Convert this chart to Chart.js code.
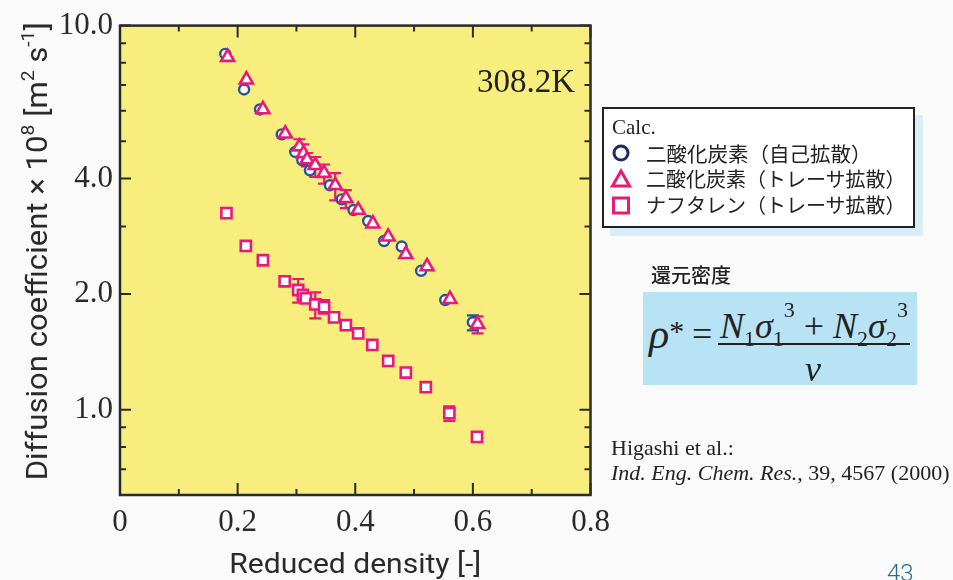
<!DOCTYPE html>
<html>
<head>
<meta charset="utf-8">
<script src="https://cdn.jsdelivr.net/npm/chart.js@4/dist/chart.umd.min.js"></script>
<style>
  html, body { margin: 0; padding: 0; background: #fafafa; }
  #wrap { position: relative; width: 953px; height: 580px; overflow: hidden; }
  #chart { position: absolute; left: 0; top: 0; }
  .abs { position: absolute; white-space: nowrap; }
  .serif { font-family: 'Liberation Serif', 'Times New Roman', serif; color: #222; }
  .cjk { font-family: 'Noto Sans CJK JP', sans-serif; color: #222; }
  #legend { left: 602px; top: 107px; width: 309px; height: 117px; border: 2px solid #222;
            background: #fff; box-shadow: 8px 8px 0 #d8edf5; }
  #formulaBox { left: 643px; top: 292px; width: 274px; height: 93px; background: #b7e3f4; }
  .fx { font-family: 'Liberation Serif', 'Times New Roman', serif; font-style: italic; color: #222; }
  .sub { font-style: normal; font-size: 22px; position: relative; top: 8px; }
  .sup { font-style: normal; font-size: 22px; position: relative; top: -21px; }
</style>
</head>
<body>
<div id="wrap">
  <canvas id="chart" width="953" height="580"></canvas>

  <!-- temperature tag -->
  <div class="abs serif" style="left:477px; top:62px; font-size:33px; line-height:38px;">308.2K</div>

  <!-- legend -->
  <div id="legend" class="abs"></div>
  <div class="abs serif" style="left:612px; top:115px; font-size:21px; line-height:24px;">Calc.</div>
  <svg class="abs" style="left:610px; top:142px;" width="22" height="76">
    <circle cx="11" cy="11" r="7" fill="#fff" stroke="#1b2a6b" stroke-width="3"/>
    <polygon points="11,29 19.5,44 2.5,44" fill="#fff" stroke="#e8197a" stroke-width="3" stroke-linejoin="miter"/>
    <rect x="3.5" y="56" width="15" height="15" fill="#fff" stroke="#e8197a" stroke-width="3"/>
  </svg>
  <div class="abs cjk" style="left:646px; top:141px; font-size:20.5px; line-height:24px;">二酸化炭素（自己拡散）</div>
  <div class="abs cjk" style="left:646px; top:167px; font-size:20px; line-height:24px;">二酸化炭素（トレーサ拡散）</div>
  <div class="abs cjk" style="left:646px; top:193px; font-size:20px; line-height:24px;">ナフタレン（トレーサ拡散）</div>

  <!-- reduced density definition -->
  <div class="abs cjk" style="left:651px; top:263px; font-size:20px; line-height:24px; font-weight:500;">還元密度</div>
  <div id="formulaBox" class="abs"></div>
  <div class="abs fx" style="left:649px; top:316px; font-size:42px; line-height:36px;">ρ<span style="font-style:normal; font-size:30px; position:relative; top:-7px;">*</span></div>
  <div class="abs fx" style="left:692px; top:316px; font-size:36px; line-height:36px; font-style:normal;">=</div>
  <div class="abs fx" style="left:720px; top:308px; font-size:36px; line-height:36px;">N<span class="sub">1</span>σ<span class="sub">1</span><span class="sup">3</span> <span style="font-style:normal">+</span> N<span class="sub">2</span>σ<span class="sub">2</span><span class="sup">3</span></div>
  <div class="abs" style="left:718px; top:343px; width:192px; height:2px; background:#222;"></div>
  <div class="abs fx" style="left:805px; top:351px; font-size:36px; line-height:36px;">v</div>

  <!-- reference -->
  <div class="abs serif" style="left:611px; top:435px; font-size:22px; line-height:26px;">Higashi et al.:</div>
  <div class="abs serif" style="left:611px; top:460px; font-size:22px; line-height:26px;"><i>Ind. Eng. Chem. Res.</i>, 39, 4567 (2000)</div>

  <!-- page number -->
  <div class="abs" style="left:887px; top:559px; font-family:Roboto, sans-serif; font-weight:300; font-size:24px; line-height:28px; color:#2b6e8a;">43</div>
</div>

<script>
// Axis ticks
const xTickValues = [0, 0.2, 0.4, 0.6, 0.8];
const xMinorValues = [0.1, 0.3, 0.5, 0.7];
const yTickValues = [1, 2, 4, 10];
const yMinorValues = [0.7, 0.8, 0.9, 3, 5, 6, 7, 8, 9];

// CO2 self-diffusion (calc.)
const co2SelfX = [0.179, 0.211, 0.238, 0.275, 0.298, 0.310, 0.323, 0.357, 0.377, 0.397, 0.422, 0.449, 0.479, 0.512, 0.553, 0.600];
const co2SelfY = [8.44, 6.82, 6.05, 5.21, 4.69, 4.46, 4.20, 3.84, 3.53, 3.31, 3.10, 2.75, 2.66, 2.30, 1.93, 1.69];
const co2SelfErrLo = [null, null, null, null, null, null, null, null, null, null, null, null, null, null, null, 1.61];
const co2SelfErrHi = [null, null, null, null, null, null, null, null, null, null, null, null, null, null, null, 1.76];

// CO2 tracer diffusion (calc.)
const co2TracerX = [0.183, 0.215, 0.243, 0.281, 0.305, 0.312, 0.318, 0.332, 0.347, 0.366, 0.384, 0.405, 0.430, 0.456, 0.486, 0.522, 0.561, 0.608];
const co2TracerY = [8.28, 7.23, 6.05, 5.23, 4.84, 4.65, 4.48, 4.33, 4.13, 3.84, 3.55, 3.31, 3.05, 2.82, 2.54, 2.36, 1.94, 1.67];
const co2TracerErrLo = [null, null, null, null, 4.57, 4.42, 4.30, 4.04, 3.88, 3.51, 3.35, null, null, null, null, null, null, 1.58];
const co2TracerErrHi = [null, null, null, null, 5.06, 4.91, 4.66, 4.55, 4.35, 4.13, 3.73, null, null, null, null, null, null, 1.75];

// Naphthalene tracer diffusion (calc.)
const naphX = [0.181, 0.214, 0.243, 0.280, 0.303, 0.311, 0.316, 0.332, 0.347, 0.364, 0.384, 0.405, 0.429, 0.456, 0.486, 0.520, 0.560, 0.607];
const naphY = [3.25, 2.67, 2.45, 2.16, 2.05, 1.99, 1.95, 1.88, 1.85, 1.74, 1.66, 1.58, 1.475, 1.34, 1.25, 1.145, 0.98, 0.85];
const naphErrLo = [null, null, null, null, 1.90, null, null, 1.73, 1.78, 1.70, null, null, null, null, null, null, 0.936, null];
const naphErrHi = [null, null, null, null, 2.19, null, null, 2.02, 1.93, 1.78, null, null, null, null, null, null, 1.02, null];

const NAVY = '#2653a0';
const PINK = '#e8197a';
const PLOT_BG = '#f8ee7e';
const INK = '#2a2a2a';

const toPoints = (xs, ys) => xs.map((x, i) => ({ x: x, y: ys[i] }));

// Plot-area fill, error bars, inward tick frame and axis titles
const decorations = {
  id: 'decorations',
  beforeDraw(chart) {
    const a = chart.chartArea, ctx = chart.ctx;
    ctx.save();
    ctx.fillStyle = PLOT_BG;
    ctx.fillRect(a.left, a.top, a.right - a.left, a.bottom - a.top);
    ctx.restore();
  },
  beforeDatasetsDraw(chart) {
    const ctx = chart.ctx, xs = chart.scales.x, ys = chart.scales.y;
    ctx.save();
    ctx.lineWidth = 2.2;
    chart.data.datasets.forEach(ds => {
      if (!ds.errLo) return;
      ctx.strokeStyle = ds.borderColor;
      ds.data.forEach((p, i) => {
        if (ds.errLo[i] == null) return;
        const px = xs.getPixelForValue(p.x);
        const lo = ys.getPixelForValue(ds.errLo[i]);
        const hi = ys.getPixelForValue(ds.errHi[i]);
        ctx.beginPath();
        ctx.moveTo(px, lo); ctx.lineTo(px, hi);
        ctx.moveTo(px - 6, lo); ctx.lineTo(px + 6, lo);
        ctx.moveTo(px - 6, hi); ctx.lineTo(px + 6, hi);
        ctx.stroke();
      });
    });
    ctx.restore();
  },
  afterDraw(chart) {
    const ctx = chart.ctx, a = chart.chartArea, xs = chart.scales.x, ys = chart.scales.y;
    ctx.save();
    ctx.strokeStyle = INK;
    ctx.lineWidth = 2;
    ctx.beginPath();
    const tick = (x1, y1, x2, y2) => { ctx.moveTo(x1, y1); ctx.lineTo(x2, y2); };
    xTickValues.forEach(v => { const p = xs.getPixelForValue(v); tick(p, a.bottom, p, a.bottom - 12); tick(p, a.top, p, a.top + 12); });
    xMinorValues.forEach(v => { const p = xs.getPixelForValue(v); tick(p, a.bottom, p, a.bottom - 6); tick(p, a.top, p, a.top + 6); });
    yTickValues.forEach(v => { const p = ys.getPixelForValue(v); tick(a.left, p, a.left + 11, p); tick(a.right, p, a.right - 11, p); });
    yMinorValues.forEach(v => { const p = ys.getPixelForValue(v); tick(a.left, p, a.left + 6, p); tick(a.right, p, a.right - 6, p); });
    ctx.stroke();
    ctx.lineWidth = 2.5;
    ctx.strokeRect(a.left, a.top, a.right - a.left, a.bottom - a.top);

    // axis titles
    ctx.fillStyle = INK;
    ctx.textBaseline = 'alphabetic';
    const family = 'Roboto, "Open Sans", sans-serif';
    const rich = (parts, cx, cy, size, width) => {
      let total = 0;
      parts.forEach(pt => {
        ctx.font = '400 ' + (pt.sup ? size * 0.62 : size) + 'px ' + family;
        pt.w = ctx.measureText(pt.t).width;
        total += pt.w;
      });
      ctx.save();
      ctx.translate(cx, cy);
      ctx.scale(width / total, 1);
      let x = -total / 2;
      parts.forEach(pt => {
        ctx.font = '400 ' + (pt.sup ? size * 0.62 : size) + 'px ' + family;
        ctx.fillText(pt.t, x, pt.sup ? -size * 0.45 : 0);
        x += pt.w;
      });
      ctx.restore();
    };
    rich([{ t: 'Reduced density [-]' }], (a.left + a.right) / 2, 573, 27, 252);
    ctx.save();
    ctx.translate(47, (a.top + a.bottom) / 2 - 9);
    ctx.rotate(-Math.PI / 2);
    rich([
      { t: 'Diffusion coefficient \u00d7 10' }, { t: '8', sup: true },
      { t: ' [m' }, { t: '2', sup: true }, { t: ' s' }, { t: '-1', sup: true }, { t: ']' }
    ], 0, 0, 30, 458);
    ctx.restore();
    ctx.restore();
  }
};

new Chart(document.getElementById('chart'), {
  type: 'scatter',
  data: {
    datasets: [
      {
        label: '二酸化炭素（トレーサ拡散）',
        data: toPoints(co2TracerX, co2TracerY),
        errLo: co2TracerErrLo, errHi: co2TracerErrHi,
        pointStyle: 'triangle', radius: 7.5, borderWidth: 2.6,
        borderColor: PINK, backgroundColor: '#ffffff', order: 0
      },
      {
        label: 'ナフタレン（トレーサ拡散）',
        data: toPoints(naphX, naphY),
        errLo: naphErrLo, errHi: naphErrHi,
        pointStyle: 'rect', radius: 7.2, borderWidth: 2.6,
        borderColor: PINK, backgroundColor: '#ffffff', order: 1
      },
      {
        label: '二酸化炭素（自己拡散）',
        data: toPoints(co2SelfX, co2SelfY),
        errLo: co2SelfErrLo, errHi: co2SelfErrHi,
        pointStyle: 'circle', radius: 5, borderWidth: 2.4,
        borderColor: NAVY, backgroundColor: '#ffffff', order: 2
      }
    ]
  },
  options: {
    responsive: false,
    animation: false,
    events: [],
    layout: { padding: { top: 25, right: 362.5, left: 0, bottom: 0 } },
    plugins: { legend: { display: false }, tooltip: { enabled: false } },
    scales: {
      x: {
        type: 'linear', min: 0, max: 0.8,
        grid: { display: false, drawTicks: false }, border: { display: false },
        afterBuildTicks: s => { s.ticks = xTickValues.map(v => ({ value: v })); },
        afterFit: s => { s.height = 85; },
        ticks: {
          autoSkip: false, maxRotation: 0, padding: 9, color: INK,
          font: { family: '"Liberation Serif", "Times New Roman", serif', size: 31 },
          callback: v => (v === 0 ? '0' : v.toFixed(1))
        }
      },
      y: {
        type: 'logarithmic', min: 0.6, max: 10,
        grid: { display: false, drawTicks: false }, border: { display: false },
        afterBuildTicks: s => { s.ticks = yTickValues.map(v => ({ value: v })); },
        afterFit: s => { s.width = 120; },
        ticks: {
          autoSkip: false, padding: 7, color: INK,
          font: { family: '"Liberation Serif", "Times New Roman", serif', size: 31 },
          callback: v => v.toFixed(1)
        }
      }
    }
  },
  plugins: [decorations]
});
</script>
</body>
</html>
